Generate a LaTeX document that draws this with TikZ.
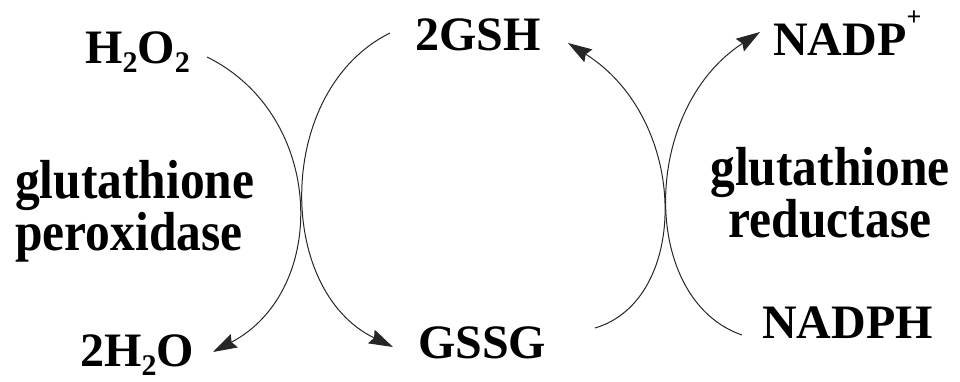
\documentclass[tikz,border=0pt]{standalone}
\usepackage{fontspec}
\setmainfont{Liberation Serif}
\newfontfamily\enzfont[FakeStretch=0.9]{Liberation Serif}
\usetikzlibrary{arrows.meta}
\newcommand{\sbx}[1]{\raisebox{-0.2em}{\fontsize{30}{30}\selectfont #1}}
\newcommand{\spx}[1]{\raisebox{0.62em}{\fontsize{26}{26}\selectfont #1}}
\begin{document}
\begin{tikzpicture}[x=1pt,y=-1pt,
  lbl/.style={font=\fontsize{48}{48}\selectfont\bfseries, inner sep=0pt},
  enz/.style={font=\enzfont\fontsize{55}{45}\selectfont\bfseries, inner sep=0pt},
  rx/.style={line width=1pt, draw=black!85},
  tipd/.style={-{Stealth[length=24pt,width=15pt,inset=3pt]}}]
\useasboundingbox (0,0) rectangle (960,381);
\node[lbl,anchor=base west] (h2o2) at (85,63) {H\sbx{2}O\sbx{2}};
\node[lbl,anchor=base west] (gsh) at (415,50) {2GSH};
\node[lbl,anchor=base west] (nadp) at (773,55) {NADP\spx{+}};
\node[lbl,anchor=base west] (h2o) at (80,366) {2H\sbx{2}O};
\node[lbl,anchor=base west] (gssg) at (418,358) {GSSG};
\node[lbl,anchor=base west] (nadph) at (762,338) {NADPH};
\node[enz,align=left,anchor=base west] (gpx) at (15,250) {glutathione\\peroxidase};
\node[enz,align=center,anchor=base] (gr) at (830,237) {glutathione\\reductase};
\coordinate (a1) at (207,57);
\coordinate (a2) at (213,352);
\coordinate (b1) at (390,33);
\coordinate (b2) at (393,347);
\coordinate (c1) at (595,328);
\coordinate (c2) at (568,43);
\coordinate (d1) at (742,335);
\coordinate (d2) at (760,32);
\draw[rx,tipd] (a1) .. controls (325,115) and (330,290) .. (a2);
\draw[rx,tipd] (b1) .. controls (275,90) and (275,290) .. (b2);
\draw[rx,tipd] (c1) .. controls (690,300) and (690,120) .. (c2);
\draw[rx,tipd] (d1) .. controls (640,300) and (640,110) .. (d2);
\end{tikzpicture}
\end{document}
